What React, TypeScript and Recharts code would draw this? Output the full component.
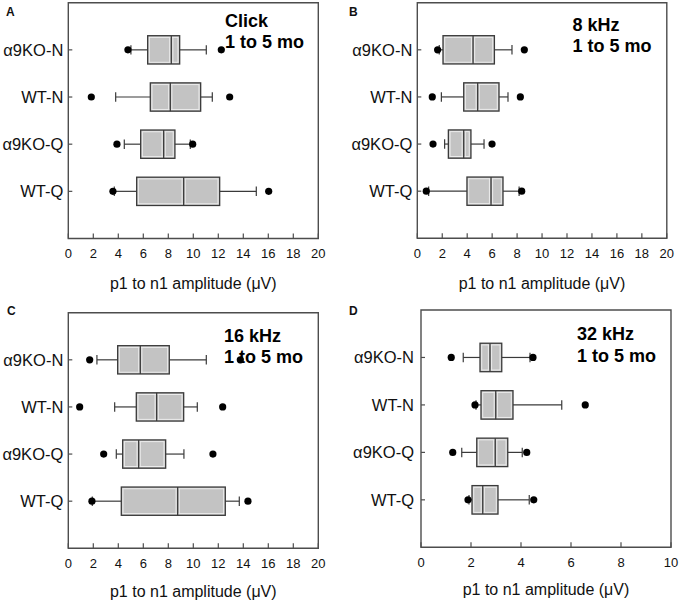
import { ComposedChart, XAxis, YAxis, Scatter, ReferenceArea, ReferenceLine } from 'recharts';

// groups, top to bottom
const groups = ['α9KO-N', 'WT-N', 'α9KO-Q', 'WT-Q'];
const groupPos = [1, 2, 3, 4];
const ticks20 = [0, 2, 4, 6, 8, 10, 12, 14, 16, 18, 20];
const ticks10 = [0, 2, 4, 6, 8, 10];

// A: Click
const clickLowDot = [4.77, 1.84, 3.89, 3.57];
const clickLow = [5.01, 3.79, 4.48, 3.68];
const clickQ1 = [6.35, 6.56, 5.79, 5.47];
const clickMed = [8.24, 8.16, 7.63, 9.23];
const clickQ3 = [8.91, 10.59, 8.53, 12.11];
const clickHigh = [11.04, 11.52, 9.76, 15.04];
const clickHighDot = [12.24, 12.91, 9.95, 16.03];

// B: 8 kHz
const k8LowDot = [1.63, 1.2, 1.26, 0.72];
const k8Low = [1.76, 1.93, 2.19, 0.91];
const k8Q1 = [2.06, 3.72, 2.49, 3.98];
const k8Med = [4.47, 4.84, 3.72, 5.91];
const k8Q3 = [6.18, 6.55, 4.3, 6.87];
const k8High = [7.59, 7.27, 5.35, 8.16];
const k8HighDot = [8.58, 8.26, 5.99, 8.37];

// C: 16 kHz
const k16LowDot = [1.71, 0.91, 2.83, 1.89];
const k16Low = [2.29, 3.71, 3.84, 1.92];
const k16Q1 = [3.95, 5.44, 4.35, 4.24];
const k16Med = [5.76, 7.07, 5.63, 8.75];
const k16Q3 = [8.08, 9.23, 7.79, 12.56];
const k16High = [11.04, 10.32, 9.25, 13.68];
const k16HighDot = [13.76, 12.35, 11.57, 14.37];

// D: 32 kHz
const k32LowDot = [1.21, 2.16, 1.27, 1.88];
const k32Low = [1.69, 2.2, 1.63, 1.92];
const k32Q1 = [2.36, 2.4, 2.23, 2.04];
const k32Med = [2.76, 2.99, 2.97, 2.47];
const k32Q3 = [3.23, 3.68, 3.47, 3.08];
const k32High = [4.36, 5.63, 4.05, 4.33];
const k32HighDot = [4.48, 6.57, 4.23, 4.51];

const FONT = 'Arial, "Liberation Sans", sans-serif';
const INK = '#111';
const FRAME = '#4d4d4d';
const LINE = '#3a3a3a';
const BOX_HALF = 0.3;
const CAP_HALF = 0.1;

type Stats = {
  lowDot: number[]; low: number[]; q1: number[]; med: number[];
  q3: number[]; high: number[]; highDot: number[];
};

function BoxShape(p: any) {
  const { x, y, width, height } = p;
  return (
    <g>
      <rect x={x} y={y} width={width} height={height} fill="#c3c3c3" stroke={LINE} strokeWidth={1.3} />
      <rect x={x + 1.7} y={y + 1.7} width={Math.max(0, width - 3.4)} height={height - 3.4}
        fill="none" stroke="#ececec" strokeWidth={1} />
    </g>
  );
}

function MedianShape(p: any) {
  const { x1, y1, y2 } = p;
  const top = Math.min(y1, y2) + 1.7;
  const bot = Math.max(y1, y2) - 1.7;
  return (
    <g>
      <line x1={x1 - 1.6} x2={x1 - 1.6} y1={top} y2={bot} stroke="#ececec" strokeWidth={1} />
      <line x1={x1 + 1.6} x2={x1 + 1.6} y1={top} y2={bot} stroke="#ececec" strokeWidth={1} />
      <line x1={x1} x2={x1} y1={Math.min(y1, y2)} y2={Math.max(y1, y2)} stroke={LINE} strokeWidth={1.3} />
    </g>
  );
}

function XTick(p: any) {
  const { x, y, payload } = p;
  return (
    <g>
      <line x1={x} x2={x} y1={y} y2={y - 5} stroke={FRAME} strokeWidth={1.2} />
      <text x={x} y={y + 19.5} textAnchor="middle" fontFamily={FONT} fontSize={13} fill={INK}>
        {payload.value}
      </text>
    </g>
  );
}

function YTick(p: any) {
  const { x, y, payload, gap } = p;
  return (
    <g>
      <line x1={x} x2={x + 4} y1={y} y2={y} stroke={FRAME} strokeWidth={1.2} />
      <text x={x - gap} y={y} dy="0.36em" textAnchor="end" fontFamily={FONT} fontSize={16.5} fill={INK}>
        {groups[payload.value - 1]}
      </text>
    </g>
  );
}

type Frame = { l: number; r: number; t: number; b: number };

function BoxPanel({ s, xMax, xTicks, frame, gap }: { s: Stats; xMax: number; xTicks: number[]; frame: Frame; gap: number }) {
  const dots = groupPos.flatMap((pos, i) => [
    { x: s.lowDot[i], y: pos },
    { x: s.highDot[i], y: pos },
  ]);
  return (
    <ComposedChart width={340} height={300} margin={{ top: frame.t, right: 340 - frame.r, bottom: 0, left: 0 }}>
      <XAxis type="number" dataKey="x" domain={[0, xMax]} ticks={xTicks} interval={0}
        height={300 - frame.b} axisLine={false} tickLine={false} tickSize={0} tickMargin={0} tick={XTick} />
      <YAxis type="number" dataKey="y" domain={[0, 5]} ticks={groupPos} interval={0} reversed
        width={frame.l} axisLine={false} tickLine={false} tickSize={0} tickMargin={0}
        tick={(p: any) => <YTick {...p} gap={gap} />} />
      {groupPos.map((pos, i) => (
        <ReferenceLine key={`wl${i}`} segment={[{ x: s.low[i], y: pos }, { x: s.q1[i], y: pos }]} stroke={LINE} strokeWidth={1.2} />
      ))}
      {groupPos.map((pos, i) => (
        <ReferenceLine key={`wh${i}`} segment={[{ x: s.q3[i], y: pos }, { x: s.high[i], y: pos }]} stroke={LINE} strokeWidth={1.2} />
      ))}
      {groupPos.map((pos, i) => (
        <ReferenceLine key={`cl${i}`} segment={[{ x: s.low[i], y: pos - CAP_HALF }, { x: s.low[i], y: pos + CAP_HALF }]} stroke={LINE} strokeWidth={1.2} />
      ))}
      {groupPos.map((pos, i) => (
        <ReferenceLine key={`ch${i}`} segment={[{ x: s.high[i], y: pos - CAP_HALF }, { x: s.high[i], y: pos + CAP_HALF }]} stroke={LINE} strokeWidth={1.2} />
      ))}
      {groupPos.map((pos, i) => (
        <ReferenceArea key={`b${i}`} x1={s.q1[i]} x2={s.q3[i]} y1={pos - BOX_HALF} y2={pos + BOX_HALF} shape={BoxShape} />
      ))}
      {groupPos.map((pos, i) => (
        <ReferenceLine key={`m${i}`} segment={[{ x: s.med[i], y: pos - BOX_HALF }, { x: s.med[i], y: pos + BOX_HALF }]} shape={MedianShape} />
      ))}
      <ReferenceArea x1={0} x2={xMax} y1={0} y2={5} fill="none" fillOpacity={0} stroke={FRAME} strokeWidth={1.4} />
      <Scatter data={dots} isAnimationActive={false}
        shape={(p: any) => <circle cx={p.cx} cy={p.cy} r={3.6} fill="#000" />} />
    </ComposedChart>
  );
}

const panels = [
  { id: 'A', left: 0, top: 0, xMax: 20, xTicks: ticks20, gap: 5, frame: { l: 68.3, r: 318.3, t: 2.7, b: 238.5 },
    s: { lowDot: clickLowDot, low: clickLow, q1: clickQ1, med: clickMed, q3: clickQ3, high: clickHigh, highDot: clickHighDot } },
  { id: 'B', left: 340, top: 0, xMax: 20, xTicks: ticks20, gap: 5, frame: { l: 77.3, r: 326.8, t: 2.7, b: 238.3 },
    s: { lowDot: k8LowDot, low: k8Low, q1: k8Q1, med: k8Med, q3: k8Q3, high: k8High, highDot: k8HighDot } },
  { id: 'C', left: 0, top: 300, xMax: 20, xTicks: ticks20, gap: 5, frame: { l: 68.3, r: 318.3, t: 12.7, b: 248.3 },
    s: { lowDot: k16LowDot, low: k16Low, q1: k16Q1, med: k16Med, q3: k16Q3, high: k16High, highDot: k16HighDot } },
  { id: 'D', left: 340, top: 300, xMax: 10, xTicks: ticks10, gap: 7, frame: { l: 81, r: 331, t: 10, b: 247.3 },
    s: { lowDot: k32LowDot, low: k32Low, q1: k32Q1, med: k32Med, q3: k32Q3, high: k32High, highDot: k32HighDot } },
];

const notes = [
  { x: 225, y: 26.7, lines: ['Click', '1 to 5 mo'] },
  { x: 572.5, y: 30.7, lines: ['8 kHz', '1 to 5 mo'] },
  { x: 224, y: 341.7, lines: ['16 kHz', '1 to 5 mo'] },
  { x: 577, y: 340, lines: ['32 kHz', '1 to 5 mo'] },
];

const letters = [
  { t: 'A', x: 6, y: 16 },
  { t: 'B', x: 349, y: 15.5 },
  { t: 'C', x: 7, y: 314.5 },
  { t: 'D', x: 349, y: 314.5 },
];

const axisTitles = [
  { x: 193.3, y: 289 },
  { x: 542, y: 289 },
  { x: 193.3, y: 597 },
  { x: 546, y: 594.5 },
];

export default function App() {
  return (
    <div style={{ position: 'relative', width: 680, height: 604, background: '#fff' }}>
      <style>{'body{margin:0}'}</style>
      <svg width={680} height={604} style={{ position: 'absolute', left: 0, top: 0 }}>
        {letters.map((l) => (
          <text key={l.t} x={l.x} y={l.y} fontFamily={FONT} fontWeight="bold" fontSize={12} fill={INK}>{l.t}</text>
        ))}
        {notes.map((n, i) => (
          <g key={i}>
            {n.lines.map((line, j) => (
              <text key={j} x={n.x} y={n.y + j * 21.7} fontFamily={FONT} fontWeight="bold" fontSize={18} fill="#000">{line}</text>
            ))}
          </g>
        ))}
        {axisTitles.map((a, i) => (
          <text key={i} x={a.x} y={a.y} textAnchor="middle" fontFamily={FONT} fontSize={16} fill={INK}>
            p1 to n1 amplitude (μV)
          </text>
        ))}
      </svg>
      {panels.map((p) => (
        <div key={p.id} style={{ position: 'absolute', left: p.left, top: p.top, width: 340, height: 300 }}>
          <BoxPanel s={p.s} xMax={p.xMax} xTicks={p.xTicks} frame={p.frame} gap={p.gap} />
        </div>
      ))}
    </div>
  );
}
